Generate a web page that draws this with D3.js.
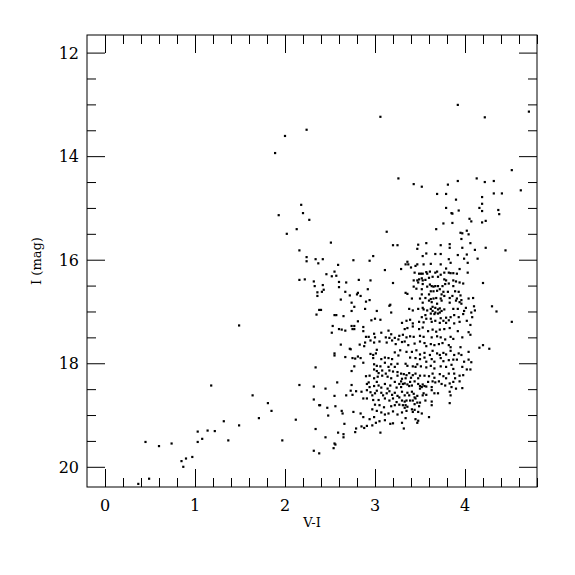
<!DOCTYPE html>
<html><head><meta charset="utf-8">
<script src="https://cdn.jsdelivr.net/npm/d3@7"></script>
<style>html,body{margin:0;padding:0;background:#fff;}</style>
</head><body>
<svg id="chart" width="575" height="575"></svg>
<script>
// ---- data: [V-I, I] pairs ----
const blueStars = [[1.18,18.43],[1.64,18.62],[1.81,18.77],[1.85,18.92],[1.71,19.06],[2.12,19.09],[1.32,19.12],[1.49,19.20],[1.03,19.32],[1.14,19.30],[1.22,19.31],[1.08,19.46],[1.03,19.52],[1.37,19.49],[1.97,19.49],[0.45,19.52],[0.74,19.55],[0.60,19.60],[0.97,19.81],[0.90,19.84],[0.85,19.89],[0.87,20.00],[0.49,20.23],[0.37,20.33],[1.49,17.27]];
const yellowBranch = [[2.24,13.49],[2.00,13.61],[1.89,13.94],[2.18,14.94],[1.93,15.14],[2.20,15.10],[2.27,15.23],[2.13,15.41],[2.02,15.50],[2.51,15.67],[2.16,15.82],[2.24,15.95],[2.24,16.03],[2.34,15.99],[2.37,16.07],[2.16,16.39],[2.22,16.38],[2.32,16.42],[2.33,16.51],[2.36,16.63],[2.36,16.70],[2.35,17.06],[2.38,16.97],[2.34,18.08],[2.16,18.42],[2.32,18.45],[2.32,18.70],[2.38,18.81],[2.34,19.27],[2.32,19.69],[2.38,19.74]];
const brightRed = [[3.92,13.01],[3.06,13.24],[4.22,13.25],[4.71,13.14],[4.52,14.27],[3.26,14.43],[3.43,14.54],[3.52,14.59],[3.81,14.55],[3.92,14.48],[4.13,14.43],[4.22,14.50],[4.32,14.48],[4.62,14.66],[3.69,14.73],[3.79,14.73],[4.32,14.72],[4.41,14.72],[4.19,14.79],[3.90,14.84],[4.19,14.92],[3.79,15.00],[4.16,15.00],[3.93,15.05],[4.19,15.06],[4.37,15.04],[3.85,15.10],[3.86,15.11],[4.38,15.12],[4.05,15.21],[4.07,15.26],[4.19,15.28],[4.23,15.25],[3.76,15.30],[3.86,15.29],[3.68,15.41],[3.13,15.46],[4.02,15.44],[3.95,15.48],[3.97,15.49],[4.04,15.51],[3.96,15.60],[4.23,15.77],[4.45,15.82],[4.20,16.45],[4.30,16.90],[4.52,17.20],[4.27,17.72],[4.20,17.65],[4.35,17.00]];
const clusterTopLeft = [[3.20,15.72],[3.25,15.72],[2.98,15.93],[2.42,15.99],[2.76,16.01],[2.94,16.02],[2.59,16.10],[3.11,16.20],[2.55,16.23],[2.46,16.28],[2.52,16.32],[2.57,16.31],[2.82,16.39],[2.95,16.40],[2.60,16.43],[2.68,16.44],[3.20,16.45],[2.42,16.49],[2.60,16.53],[2.92,16.57],[2.43,16.58],[2.41,16.62],[2.67,16.62],[2.81,16.64],[2.80,16.67],[2.72,16.69],[2.84,16.70],[2.94,16.78],[2.62,16.77],[2.74,16.83],[2.90,16.81],[3.17,16.87]];
const clusterTopRight = [[4.06,15.68],[3.83,15.70],[3.73,15.72],[3.57,15.68],[3.48,15.71],[3.47,15.79],[3.83,15.77],[3.97,15.77],[4.11,15.81],[4.02,15.90],[3.92,15.91],[3.67,15.89],[3.73,15.89],[3.57,15.88],[3.53,15.93],[3.82,15.99],[3.99,15.98],[3.84,16.06],[4.03,16.06],[3.36,16.04],[3.34,16.09],[3.37,16.09],[3.45,16.12],[3.47,16.09],[3.54,16.09],[3.62,16.08],[3.73,16.09],[3.29,16.18],[3.40,16.15],[3.44,16.25],[3.49,16.27],[3.51,16.27],[3.53,16.27],[3.57,16.24],[3.58,16.27],[3.61,16.23],[3.67,16.25],[3.69,16.23],[3.79,16.17],[3.77,16.25],[3.82,16.25],[3.84,16.26],[3.87,16.26],[3.91,16.27],[3.94,16.18],[4.03,16.25],[4.14,15.98],[3.43,16.40],[3.47,16.40],[3.49,16.38],[3.52,16.36],[3.53,16.40],[3.56,16.39],[3.60,16.35],[3.64,16.33],[3.70,16.33],[3.73,16.29],[3.77,16.38],[3.79,16.40],[3.87,16.40],[3.90,16.42],[3.94,16.44],[3.98,16.46],[3.61,16.48],[3.53,16.47],[3.48,16.44],[3.43,16.52],[3.58,16.52],[3.63,16.51],[3.65,16.52],[3.67,16.51],[3.70,16.51],[3.75,16.51],[3.78,16.47],[3.82,16.46],[3.87,16.51],[3.72,16.57],[3.76,16.62],[3.81,16.62],[3.89,16.61],[3.93,16.62],[3.46,16.56],[3.52,16.57],[3.62,16.61],[3.65,16.61],[3.69,16.60],[3.52,16.67],[3.60,16.67],[3.74,16.67],[3.77,16.70],[3.86,16.70],[3.91,16.75],[3.95,16.69],[3.34,16.64],[3.36,16.66],[3.41,16.75],[3.50,16.75],[3.56,16.74],[3.60,16.79],[3.62,16.76],[3.65,16.75],[3.68,16.74],[3.73,16.75],[3.74,16.79],[3.83,16.74],[3.90,16.79],[3.96,16.78],[4.04,16.75],[4.09,16.74],[3.53,16.83],[3.63,16.82],[3.83,16.83],[3.94,16.82],[3.96,16.85],[3.69,16.85]];
const clusterMidLeft = [[2.40,16.97],[2.55,17.07],[2.57,17.07],[2.65,17.09],[2.74,16.99],[2.77,16.91],[2.89,16.95],[3.02,16.99],[3.16,16.89],[3.18,17.02],[2.96,17.17],[3.00,17.14],[3.06,17.16],[2.81,17.19],[2.53,17.28],[2.60,17.34],[2.63,17.35],[2.67,17.37],[2.75,17.34],[2.77,17.34],[2.74,17.28],[2.77,17.28],[2.87,17.30],[2.52,17.41],[2.87,17.38],[2.99,17.43],[3.07,17.41],[3.15,17.37],[3.18,17.44],[2.90,17.49],[2.93,17.49],[3.00,17.50],[3.12,17.50],[3.16,17.51],[3.22,17.51],[3.26,17.54],[2.62,17.64],[2.83,17.64],[2.88,17.67],[2.89,17.60],[2.95,17.56],[2.99,17.60],[3.05,17.58],[3.13,17.60],[3.19,17.56],[3.23,17.63],[2.72,17.72],[2.73,17.73],[2.55,17.81],[2.55,17.85],[2.67,17.88],[2.75,17.90],[2.78,17.91],[2.81,17.87],[2.84,17.90],[2.95,17.82],[2.98,17.84],[3.01,17.81],[3.02,17.74],[2.98,17.90],[3.07,17.92],[3.11,17.89],[3.15,17.90],[3.19,17.92],[3.22,17.79],[3.26,17.85],[2.77,18.06],[2.87,17.99],[2.99,18.02],[3.02,18.05],[3.06,18.06],[3.11,17.99],[3.15,18.07],[3.18,18.02],[3.22,18.07],[3.25,18.01],[2.74,18.15],[2.99,18.12],[3.02,18.15],[3.04,18.19],[3.08,18.14],[3.12,18.20],[3.16,18.14],[3.20,18.16],[3.25,18.17],[3.03,18.26],[2.90,18.25],[2.94,18.24],[3.08,18.24],[3.14,18.26],[3.18,18.29],[3.25,18.24],[2.99,18.29]];
const clusterMidRight = [[3.38,16.95],[3.42,16.98],[3.48,16.95],[3.53,16.93],[3.54,16.96],[3.58,16.98],[3.62,16.95],[3.64,16.91],[3.67,16.93],[3.70,16.96],[3.72,16.94],[3.74,16.99],[3.77,16.96],[3.64,16.99],[3.67,17.02],[3.72,17.02],[3.87,16.95],[3.92,16.95],[3.99,16.99],[4.01,16.93],[4.11,16.98],[4.10,16.90],[3.56,17.07],[3.62,17.04],[3.66,17.05],[3.70,17.04],[3.52,17.11],[3.57,17.14],[3.62,17.14],[3.73,17.13],[3.79,17.12],[3.84,17.11],[3.88,17.07],[3.93,17.11],[3.98,17.05],[4.07,17.02],[4.08,17.11],[3.30,17.22],[3.35,17.18],[3.39,17.16],[3.42,17.23],[3.49,17.20],[3.54,17.21],[3.63,17.20],[3.67,17.18],[3.72,17.22],[3.76,17.18],[3.79,17.22],[3.82,17.17],[3.88,17.23],[3.94,17.20],[4.02,17.18],[4.06,17.26],[3.33,17.34],[3.36,17.32],[3.42,17.29],[3.49,17.34],[3.53,17.31],[3.59,17.38],[3.64,17.35],[3.68,17.39],[3.72,17.35],[3.77,17.34],[3.83,17.32],[3.92,17.38],[4.04,17.40],[3.27,17.47],[3.31,17.45],[3.35,17.50],[3.39,17.48],[3.43,17.49],[3.50,17.47],[3.54,17.49],[3.63,17.50],[3.69,17.48],[3.73,17.50],[3.78,17.54],[3.84,17.49],[3.87,17.53],[3.97,17.50],[4.06,17.45],[3.30,17.59],[3.33,17.58],[3.37,17.65],[3.44,17.62],[3.50,17.58],[3.55,17.61],[3.57,17.67],[3.62,17.63],[3.66,17.65],[3.71,17.63],[3.75,17.61],[3.82,17.65],[3.84,17.69],[3.95,17.69],[4.16,17.70],[3.28,17.75],[3.35,17.78],[3.41,17.78],[3.46,17.75],[3.50,17.83],[3.55,17.80],[3.61,17.84],[3.64,17.76],[3.69,17.81],[3.72,17.84],[3.76,17.80],[3.79,17.83],[3.84,17.76],[3.88,17.84],[3.93,17.81],[3.96,17.84],[4.04,17.78],[3.39,17.89],[3.45,17.90],[3.50,17.92],[3.55,17.89],[3.57,17.97],[3.63,17.92],[3.66,17.97],[3.73,17.90],[3.76,17.96],[3.82,17.94],[3.87,17.93],[3.91,17.93],[3.99,17.97],[4.04,17.93],[4.07,17.98],[3.34,18.01],[3.36,18.05],[3.42,18.06],[3.45,18.07],[3.47,18.02],[3.51,18.06],[3.57,18.08],[3.62,18.05],[3.66,18.10],[3.73,18.06],[3.79,18.07],[3.85,18.03],[3.87,18.11],[3.97,18.07],[4.02,18.12],[4.06,18.12],[3.29,18.20],[3.32,18.21],[3.35,18.23],[3.38,18.19],[3.42,18.23],[3.45,18.20],[3.50,18.24],[3.55,18.24],[3.60,18.25],[3.64,18.20],[3.66,18.28],[3.72,18.21],[3.76,18.25],[3.82,18.20],[3.88,18.20],[3.94,18.24],[3.98,18.23],[3.30,18.30],[3.34,18.29],[3.40,18.28],[3.48,18.29],[3.79,18.29],[3.89,18.29]];
const clusterLowLeft = [[2.58,18.37],[2.74,18.42],[2.45,18.49],[2.73,18.53],[2.79,18.54],[2.85,18.55],[2.68,18.62],[2.75,18.61],[2.55,18.63],[2.39,18.81],[2.47,18.86],[2.56,18.83],[2.63,18.92],[2.64,18.97],[2.48,19.01],[2.76,18.94],[2.84,18.97],[2.87,19.04],[2.91,18.40],[2.93,18.37],[2.94,18.46],[2.99,18.44],[3.02,18.36],[3.04,18.43],[3.07,18.47],[3.11,18.40],[3.14,18.49],[3.17,18.43],[3.22,18.36],[3.24,18.47],[3.27,18.40],[2.91,18.52],[2.95,18.56],[2.97,18.62],[3.00,18.58],[3.02,18.53],[3.07,18.57],[3.09,18.62],[3.13,18.58],[3.16,18.54],[3.19,18.61],[3.22,18.57],[3.25,18.63],[2.87,18.68],[2.91,18.68],[2.98,18.71],[3.04,18.71],[3.11,18.68],[3.16,18.72],[3.20,18.68],[3.24,18.75],[3.27,18.80],[3.00,18.80],[3.05,18.81],[3.10,18.85],[3.18,18.83],[3.22,18.81],[2.97,18.89],[3.02,18.92],[3.07,18.95],[3.11,18.99],[3.15,18.97],[3.20,18.93],[3.25,18.99],[2.94,19.08],[2.99,19.04],[3.05,19.12],[3.11,19.10],[3.17,19.17],[3.20,19.16],[2.91,19.21],[2.88,19.25],[2.97,19.20],[3.01,19.15],[2.66,19.17],[2.79,19.26],[2.78,19.33],[2.59,19.34],[2.65,19.37],[2.65,19.43],[2.85,19.22],[3.06,19.34],[2.45,19.43],[2.55,19.55],[2.56,19.57],[2.54,19.64]];
const clusterLowRight = [[3.29,18.35],[3.31,18.40],[3.33,18.39],[3.36,18.41],[3.39,18.36],[3.38,18.44],[3.41,18.43],[3.44,18.35],[3.48,18.40],[3.50,18.44],[3.53,18.41],[3.55,18.44],[3.52,18.46],[3.57,18.45],[3.59,18.36],[3.64,18.35],[3.67,18.37],[3.71,18.35],[3.74,18.40],[3.78,18.43],[3.83,18.39],[3.87,18.36],[3.94,18.35],[3.97,18.48],[3.90,18.49],[3.85,18.46],[3.83,18.55],[3.84,18.62],[3.70,18.58],[3.66,18.58],[3.63,18.52],[3.50,18.49],[3.41,18.55],[3.36,18.57],[3.30,18.55],[3.33,18.62],[3.38,18.62],[3.43,18.59],[3.47,18.63],[3.44,18.66],[3.45,18.68],[3.54,18.58],[3.57,18.61],[3.53,18.62],[3.63,18.46],[3.29,18.46],[3.27,18.66],[3.30,18.72],[3.33,18.74],[3.35,18.72],[3.39,18.72],[3.42,18.72],[3.47,18.76],[3.50,18.76],[3.44,18.79],[3.49,18.83],[3.56,18.72],[3.63,18.74],[3.63,18.81],[3.83,18.77],[3.31,18.81],[3.34,18.81],[3.36,18.84],[3.33,18.86],[3.41,18.89],[3.44,18.90],[3.35,18.92],[3.42,18.94],[3.48,18.94],[3.52,18.97],[3.30,18.95],[3.60,19.04],[3.34,19.06],[3.45,19.08],[3.48,19.11],[3.47,19.15],[3.30,19.15],[3.32,19.26]];

const xMajorTicks = [0, 1, 2, 3, 4];
const yMajorTicks = [12, 14, 16, 18, 20];
const xDomain = [-0.2, 4.8];
const yDomain = [11.66, 20.39];

// ---- layout ----
const L = 87, R = 537, T = 35, B = 487;
const svg = d3.select("#chart");
const x = d3.scaleLinear().domain(xDomain).range([L, R]);
const y = d3.scaleLinear().domain(yDomain).range([T, B]);

const font = "'DejaVu Serif', serif";
const ink = "#000";

// frame
svg.append("rect").attr("x", L).attr("y", T).attr("width", R - L).attr("height", B - T)
  .attr("fill", "none").attr("stroke", ink).attr("stroke-width", 1);

// ticks
const xMinor = d3.range(-0.2, 4.81, 0.2).map(v => +v.toFixed(1)).filter(v => !xMajorTicks.includes(v) && v > xDomain[0] + 1e-6);
const yMinor = d3.range(12, 20.01, 0.5).filter(v => !yMajorTicks.includes(v));
const MAJ = 18, MIN = 9;

function tickAxis(axisFn, scale, values, size, transform) {
  const g = svg.append("g").attr("transform", transform)
    .call(axisFn(scale).tickValues(values).tickSize(size).tickFormat(""));
  g.select(".domain").remove();
  g.selectAll(".tick line").attr("stroke", ink).attr("stroke-width", 1);
  return g;
}
// bottom & top (inward)
tickAxis(d3.axisTop, x, xMajorTicks, MAJ, `translate(0,${B})`);
tickAxis(d3.axisTop, x, xMinor, MIN, `translate(0,${B})`);
tickAxis(d3.axisBottom, x, xMajorTicks, MAJ, `translate(0,${T})`);
tickAxis(d3.axisBottom, x, xMinor, MIN, `translate(0,${T})`);
// left & right (inward)
tickAxis(d3.axisRight, y, yMajorTicks, MAJ, `translate(${L},0)`);
tickAxis(d3.axisRight, y, yMinor, MIN, `translate(${L},0)`);
tickAxis(d3.axisLeft, y, yMajorTicks, MAJ, `translate(${R},0)`);
tickAxis(d3.axisLeft, y, yMinor, MIN, `translate(${R},0)`);

// tick labels
svg.append("g").selectAll("text").data(xMajorTicks).join("text")
  .attr("x", d => x(d)).attr("y", B + 24)
  .attr("text-anchor", "middle").attr("font-family", font).attr("font-size", 16).attr("fill", ink)
  .text(d => d);
svg.append("g").selectAll("text").data(yMajorTicks).join("text")
  .attr("x", L - 8).attr("y", d => y(d) + 6)
  .attr("text-anchor", "end").attr("font-family", font).attr("font-size", 16).attr("fill", ink)
  .text(d => d);

// axis titles
svg.append("text").attr("x", (L + R) / 2).attr("y", 527)
  .attr("text-anchor", "middle").attr("font-family", font).attr("font-size", 13).attr("fill", ink)
  .text("V-I");
svg.append("text").attr("transform", `translate(41,${(T + B) / 2}) rotate(-90)`)
  .attr("text-anchor", "middle").attr("font-family", font).attr("font-size", 13).attr("fill", ink)
  .text("I (mag)");

// stars
const allStars = [].concat(blueStars, yellowBranch, brightRed, clusterTopLeft, clusterTopRight,
  clusterMidLeft, clusterMidRight, clusterLowLeft, clusterLowRight);
const S = 2.2;
svg.append("g").selectAll("rect").data(allStars).join("rect")
  .attr("x", d => x(d[0]) - S / 2).attr("y", d => y(d[1]) - S / 2)
  .attr("width", S).attr("height", S).attr("fill", ink);
</script>
</body></html>
